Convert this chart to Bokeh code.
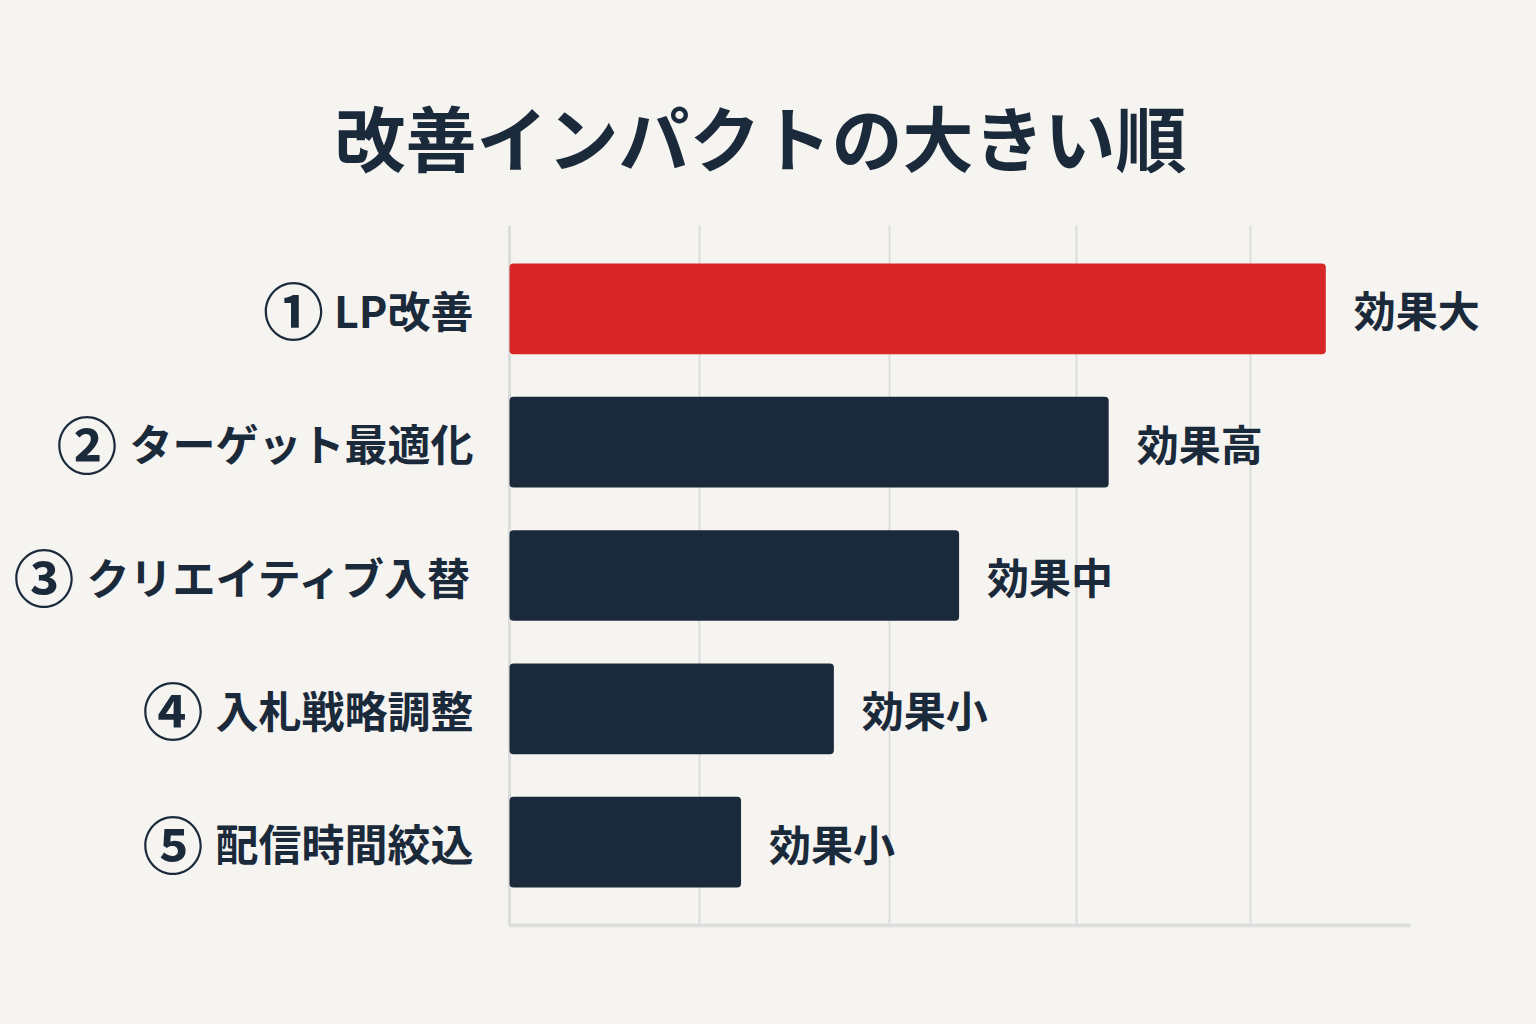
from bokeh.plotting import figure
from bokeh.models import ColumnDataSource, Range1d, FixedTicker
from bokeh.core.properties import value
from bokeh.embed import file_html
from bokeh.resources import INLINE

# ---- data ----
ranks = ["①", "②", "③", "④", "⑤"]
names = ["LP改善", "ターゲット最適化", "クリエイティブ入替", "入札戦略調整", "配信時間絞込"]
impact = [90.6, 66.5, 49.9, 36.0, 25.7]
effect_labels = ["効果大", "効果高", "効果中", "効果小", "効果小"]
grid_ticks = [21.1, 42.2, 62.9, 82.2]
axis_max = 100
title_text = "改善インパクトの大きい順"

BG = "#f5f4f0"
NAVY = "#1b2a3b"
RED = "#d82626"
GRID = "#dcdcdc"
FONT = "Noto Sans CJK JP"

NAME_SIZE = 43
RANK_SIZE = 61
NAME_STANDOFF = 36
RANK_GAP = 12

n = len(names)
ypos = [n - i for i in range(n)]                      # top row first
bar_colors = [RED if i == 0 else NAVY for i in range(n)]


def est_width(s, size):
    return sum((0.6 if ord(c) < 0x2000 else 1.0) * size for c in s)


rank_offsets = [-(NAME_STANDOFF + est_width(s, NAME_SIZE) + RANK_GAP) for s in names]

src = ColumnDataSource(dict(y=ypos, val=impact, lab=effect_labels, col=bar_colors,
                            name=names, rank=ranks, roff=rank_offsets,
                            zero=[0] * n))

W, H = 1520, 1008
LEFT_PX, RIGHT_PX = 509, 1410          # where 0 and axis_max fall on the page
px_per_unit = (RIGHT_PX - LEFT_PX) / axis_max
x_start = -LEFT_PX / px_per_unit
x_end = (W - LEFT_PX) / px_per_unit

p = figure(
    width=W, height=H,
    x_range=Range1d(x_start, x_end),
    y_range=Range1d(0.36, n + 0.625),
    output_backend="svg", toolbar_location=None,
    min_border_left=0, min_border_right=0, min_border_top=225, min_border_bottom=81,
)
p.background_fill_color = BG
p.border_fill_color = BG
p.outline_line_color = None
p.xaxis.visible = False
p.yaxis.visible = False

p.title.text = title_text
p.title.align = "center"
p.title.text_font = FONT
p.title.text_font_style = "bold"
p.title.text_font_size = "71px"
p.title.text_color = NAVY
p.title.standoff = 79

# grid
p.xgrid.ticker = FixedTicker(ticks=grid_ticks)
p.xgrid.grid_line_color = GRID
p.xgrid.grid_line_width = 2
p.ygrid.grid_line_color = None

# axis lines
y_base = 0.375
p.segment(x0=0, y0=y_base, x1=axis_max, y1=y_base, line_color="#dedede", line_width=4)
p.segment(x0=0, y0=y_base, x1=0, y1=n + 0.625, line_color=GRID, line_width=3)

# bars
p.hbar(y="y", left=0, right="val", height=0.68, source=src,
       fill_color="col", line_color=None, border_radius=4)

# value labels
p.text(x="val", y="y", text="lab", source=src, x_offset=28,
       text_baseline="middle", text_align="left",
       text_font=value(FONT), text_font_style="bold", text_font_size=value("42px"),
       text_color=NAVY)

# category labels
p.text(x="zero", y="y", text="name", source=src, x_offset=-NAME_STANDOFF,
       text_baseline="middle", text_align="right",
       text_font=value(FONT), text_font_style="bold",
       text_font_size=value("%dpx" % NAME_SIZE), text_color=NAVY)
p.text(x="zero", y="y", text="rank", source=src, x_offset="roff",
       text_baseline="middle", text_align="right",
       text_font=value(FONT), text_font_style="bold",
       text_font_size=value("%dpx" % RANK_SIZE), text_color=NAVY)

html = file_html(p, INLINE)
html = html.replace("<head>", "<head><style>body{background:%s;}</style>" % BG, 1)
open("out.html", "w").write(html)
